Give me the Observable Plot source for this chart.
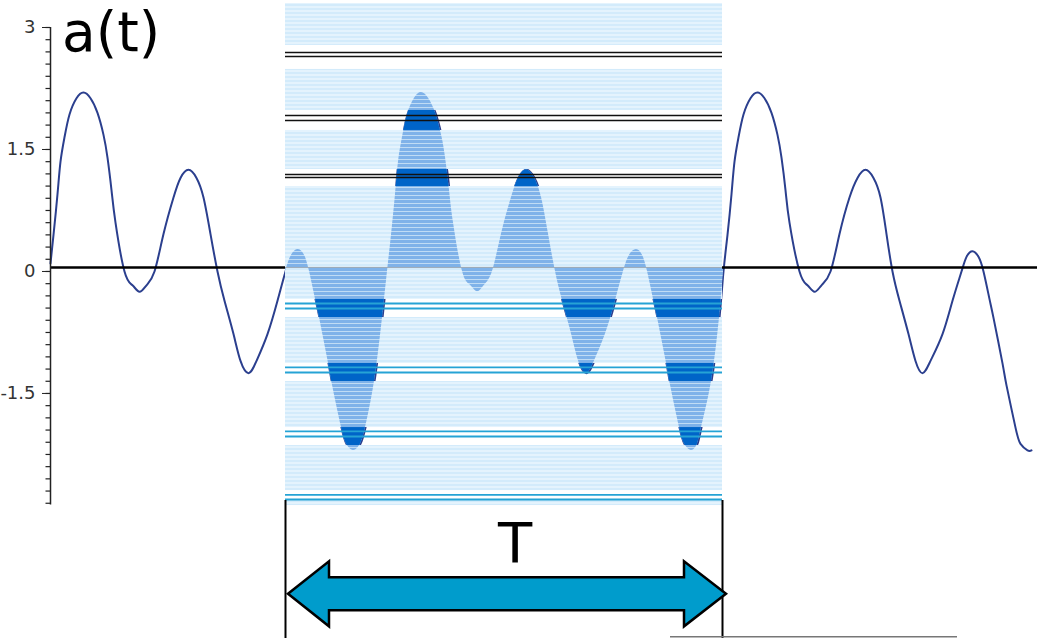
<!DOCTYPE html>
<html><head><meta charset="utf-8">
<script src="https://cdn.jsdelivr.net/npm/d3@7"></script>
<script src="https://cdn.jsdelivr.net/npm/@observablehq/plot@0.6"></script>
<style>html,body{margin:0;padding:0;background:#fff;overflow:hidden}#chart svg{display:block}</style>
</head><body><div id="chart"></div>
<script>
// time (arbitrary units) and signal a(t)
const tValues = [0.00,0.03,0.07,0.10,0.14,0.19,0.26,0.33,0.40,0.47,0.53,0.57,0.61,0.65,0.74,0.82,0.89,0.96,1.04,1.13,1.23,1.30,1.38,1.46,1.53,1.60,1.67,1.74,1.83,1.90,1.98,2.06,2.17,2.27,2.35,2.41,2.48,2.54,2.59,2.65,2.69,2.78,2.82,2.91,2.96,3.03,3.10,3.15,3.24,3.32,3.37,
3.41,3.45,3.48,3.52,3.57,3.64,3.71,3.78,3.85,3.91,3.95,3.99,4.03,4.12,4.20,4.27,4.34,4.42,4.51,4.61,4.68,4.76,4.84,4.91,4.98,5.05,5.12,5.21,5.28,5.36,5.44,5.55,5.65,5.73,5.79,5.86,5.92,5.97,6.03,6.07,6.16,6.20,6.29,6.34,6.41,6.47,6.51,6.61,6.69,6.73,
6.77,6.81,6.84,6.88,6.93,7.00,7.07,7.14,7.21,7.27,7.31,7.35,7.39,7.49,7.57,7.64,7.71,7.80,7.89,7.99,8.07,8.15,8.23,8.30,8.36,8.42,8.49,8.58,8.65,8.72,8.80,8.92,9.02,9.11,9.16,9.22,9.28,9.33,9.39,9.43,9.52,9.56,9.65,9.70,9.77,9.81];
const aValues = [0.1,0.45,0.95,1.35,1.65,1.93,2.13,2.2,2.13,1.95,1.68,1.4,1.0,0.6,0,-0.17,-0.25,-0.17,0,0.46,0.91,1.15,1.25,1.15,0.91,0.46,0,-0.36,-0.77,-1.1,-1.25,-1.1,-0.77,-0.36,0,0.2,0.27,0.2,0,-0.34,-0.57,-1.13,-1.4,-1.92,-2.12,-2.2,-2.12,-1.92,-1.35,-0.57,0,
0.45,0.95,1.35,1.65,1.93,2.13,2.2,2.13,1.95,1.68,1.4,1.0,0.6,0,-0.17,-0.25,-0.17,0,0.46,0.91,1.15,1.25,1.15,0.91,0.46,0,-0.36,-0.77,-1.1,-1.25,-1.1,-0.77,-0.36,0,0.2,0.27,0.2,0,-0.34,-0.57,-1.13,-1.4,-1.92,-2.12,-2.2,-2.12,-1.92,-1.35,-0.57,0,
0.45,0.95,1.35,1.65,1.93,2.13,2.2,2.13,1.95,1.68,1.4,1.0,0.6,0,-0.17,-0.25,-0.17,0,0.46,0.91,1.15,1.25,1.15,0.91,0.46,0,-0.36,-0.77,-1.1,-1.25,-1.1,-0.77,-0.36,0,0.18,0.25,0.18,0,-0.34,-0.57,-1.13,-1.4,-1.92,-2.12,-2.2,-2.2];

const periodWindow = [2.35, 6.72];      // one period T (shaded)
const zeroLevel = 0.05;
const bandTops    = [3.295, 2.484, 1.734, 1.045, -0.566, -1.353, -2.140, -2.816];
const bandBottoms = [2.779, 1.980, 1.254, -0.344, -1.131, -1.919, -2.694, -2.878];
const blackLines = [2.693, 2.643, 1.918, 1.856, 1.193, 1.156];
const cyanLines  = [-0.394, -0.455, -1.180, -1.242, -1.967, -2.029, -2.748, -2.804];
const majorTicks = [-1.5, 0, 1.5, 3];
const minorTicks = d3.range(-19, 21).map(i => +(i * 0.15).toFixed(2));
const axisExtent = [-2.87, 3];
const titleText = "a(t)";
const periodLabel = "T";

const wave = tValues.map((t, i) => ({t, a: aValues[i]}));
const windowWave = wave.filter(d => d.t >= periodWindow[0] && d.t <= periodWindow[1] + 0.011);
const bands = bandTops.map((top, i) => ({top, bottom: bandBottoms[i]}));
const gaps = bandBottoms.slice(0, -1).map((top, i) => ({top, bottom: bandTops[i + 1]}));

const font = "DejaVu Sans";
const curve = "natural";
const chart = Plot.plot({
  width: 1037, height: 638,
  marginLeft: 50, marginRight: 0, marginTop: 0, marginBottom: 0,
  x: {domain: [0, 9.87], axis: null},
  y: {domain: [-4.513, 3.332], axis: null},
  style: {fontFamily: font, fontSize: "18px", background: "#fff", color: "#222"},
  marks: [
    Plot.line(wave, {x: "t", y: "a", curve, stroke: "#2b3f8e", strokeWidth: 2}),
    Plot.rect(bands, {x1: periodWindow[0], x2: periodWindow[1], y1: "bottom", y2: "top", fill: "url(#bgStripe)"}),
    Plot.areaY(windowWave, {x: "t", y1: zeroLevel, y2: "a", curve, fill: "url(#areaStripe)"}),
    Plot.areaY(windowWave, {x: "t", y1: zeroLevel, y2: "a", curve, fill: "url(#darkGaps)"}),
    Plot.ruleY(blackLines, {x1: periodWindow[0], x2: periodWindow[1], stroke: "#111", strokeWidth: 1.6}),
    Plot.ruleY(cyanLines, {x1: periodWindow[0], x2: periodWindow[1], stroke: "#26a3d5", strokeWidth: 1.8}),
    Plot.ruleY([zeroLevel], {x1: periodWindow[0], x2: periodWindow[1], stroke: "#98a6b4", strokeWidth: 1}),
    Plot.ruleY([{x1: 0, x2: periodWindow[0]}, {x1: periodWindow[1], x2: 9.87}], {y: zeroLevel, x1: "x1", x2: "x2", stroke: "#000", strokeWidth: 2.5}),
    Plot.ruleX([0], {y1: axisExtent[0], y2: axisExtent[1], stroke: "#222", strokeWidth: 1.5}),
    Plot.ruleY(minorTicks, {x1: -0.045, x2: 0, stroke: "#222", strokeWidth: 1.2}),
    Plot.axisY({ticks: majorTicks, tickSize: 8, tickPadding: 7, fontSize: 18, label: null, tickFormat: d => String(d), fill: "#333"}),
    Plot.ruleX(periodWindow, {y1: -2.816, y2: -4.513, stroke: "#000", strokeWidth: 2}),
    Plot.ruleY([-4.49], {x1: 6.2, x2: 9.07, stroke: "#777", strokeWidth: 1.5}),
    Plot.text([periodLabel], {x: (periodWindow[0] + periodWindow[1]) / 2 + 0.11, y: -3.357, text: d => d, fontSize: 56, fontFamily: font, fill: "#000"}),
    Plot.text([titleText], {x: 0.115, y: 2.93, text: d => d, fontSize: 55, fontFamily: font, fill: "#000", textAnchor: "start"})
  ]
});

const svg = d3.select(chart);
const xs = chart.scale("x"), ys = chart.scale("y");
const defs = svg.insert("defs", ":first-child");
const bg = defs.append("pattern").attr("id", "bgStripe").attr("patternUnits", "userSpaceOnUse").attr("width", 8).attr("height", 4);
bg.append("rect").attr("width", 8).attr("height", 4).attr("fill", "#d3ebfb");
bg.append("rect").attr("y", 2).attr("width", 8).attr("height", 2).attr("fill", "#e4f3fd");
const ar = defs.append("pattern").attr("id", "areaStripe").attr("patternUnits", "userSpaceOnUse").attr("width", 8).attr("height", 4);
ar.append("rect").attr("width", 8).attr("height", 4).attr("fill", "#7fb2e9");
ar.append("rect").attr("y", 3).attr("width", 8).attr("height", 1).attr("fill", "#c0dcf5");
const dk = defs.append("pattern").attr("id", "darkGaps").attr("patternUnits", "userSpaceOnUse")
  .attr("x", 0).attr("y", 0).attr("width", 1037).attr("height", 638);
gaps.forEach(g => {
  const y0 = ys.apply(g.top), y1 = ys.apply(g.bottom);
  dk.append("rect").attr("x", 0).attr("width", 1037).attr("y", y0).attr("height", y1 - y0).attr("fill", "#0064c8");
});

// double-headed arrow spanning the period T
const x0 = xs.apply(periodWindow[0]), x1 = xs.apply(periodWindow[1]);
const yc = ys.apply(-3.97);
const pts = [[x0 + 3, yc], [x0 + 44, yc - 32.5], [x0 + 44, yc - 16.5], [x1 - 38, yc - 16.5], [x1 - 38, yc - 32.5], [x1 + 4, yc],
             [x1 - 38, yc + 32.5], [x1 - 38, yc + 16.5], [x0 + 44, yc + 16.5], [x0 + 44, yc + 32.5]];
svg.append("path").attr("d", "M" + pts.map(p => p.join(",")).join("L") + "Z")
  .attr("fill", "#009ccc").attr("stroke", "#000").attr("stroke-width", 2.5).attr("stroke-linejoin", "miter");

document.getElementById("chart").appendChild(chart);
</script></body></html>
